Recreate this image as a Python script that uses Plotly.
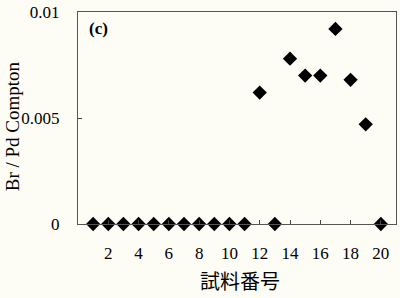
import plotly.graph_objects as go

sample_no = list(range(1, 21))
br_pd = [0, 0, 0, 0, 0, 0, 0, 0, 0, 0, 0,
         0.0062, 0, 0.0078, 0.0070, 0.0070, 0.0092, 0.0068, 0.0047, 0]
x_ticks = [2, 4, 6, 8, 10, 12, 14, 16, 18, 20]
y_ticks = [0, 0.005, 0.01]
y_tick_text = ["0", "0.005", "0.01"]

bg = "#fdfdf5"
serif = "Liberation Serif, Times New Roman, serif"

fig = go.Figure()
fig.add_trace(go.Scatter(
    x=sample_no, y=br_pd, mode="markers",
    marker=dict(symbol="diamond", size=11, color="black"),
    cliponaxis=False, showlegend=False))

fig.update_layout(
    width=400, height=298,
    margin=dict(l=78, r=3, t=10, b=74),
    paper_bgcolor=bg, plot_bgcolor=bg,
    font=dict(family=serif, size=16, color="black"),
    xaxis=dict(range=[0, 21], tickvals=x_ticks, ticks="inside", ticklen=4,
               tickcolor="#444", showline=True, linecolor="#555", linewidth=1,
               mirror=True, showgrid=False, zeroline=False,
               ticklabelstandoff=14, tickfont=dict(size=17)),
    yaxis=dict(range=[0, 0.01], tickvals=y_ticks, ticktext=y_tick_text,
               ticks="inside", ticklen=4, tickcolor="#444",
               showline=True, linecolor="#555", linewidth=1, mirror=True,
               showgrid=False, zeroline=False, ticklabelstandoff=14,
               tickfont=dict(size=17)),
)

fig.add_annotation(text="<b>(c)</b>", xref="paper", yref="paper", x=0.028, y=0.92,
                   xanchor="left", yanchor="middle", showarrow=False,
                   font=dict(family=serif, size=17, color="black"))
fig.add_annotation(text="試料番号", xref="paper", yref="paper", x=0.51, y=-0.265,
                   xanchor="center", yanchor="middle", showarrow=False,
                   font=dict(family="Noto Sans CJK JP", size=20, color="black"))
fig.add_annotation(text="Br / Pd Compton", xref="paper", yref="paper",
                   x=-0.205, y=0.46, xanchor="center", yanchor="middle",
                   textangle=-90, showarrow=False,
                   font=dict(family=serif, size=19, color="black"))

fig.write_html("out.html")
